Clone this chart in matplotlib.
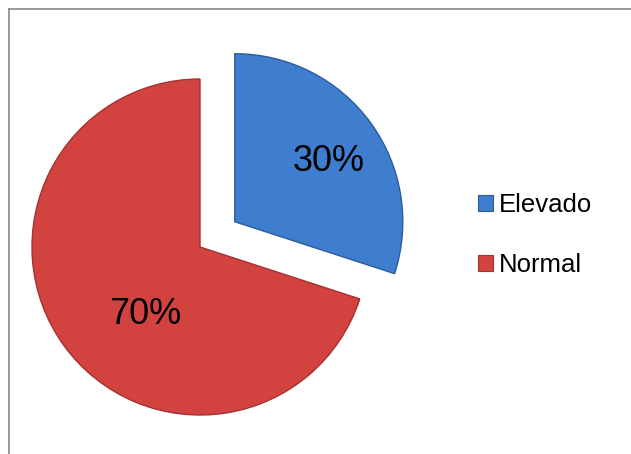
import matplotlib
matplotlib.use("Agg")
import matplotlib.pyplot as plt
from matplotlib.patches import Rectangle
from matplotlib.lines import Line2D
import numpy as np

labels = ["Elevado", "Normal"]
values = [30, 70]
colors = ["#3F7ECF", "#D2433F"]
edges = ["#2A5B9C", "#A33230"]

W, H = 631, 454
fig = plt.figure(figsize=(W / 100, H / 100), dpi=100)
ax = fig.add_axes([0, 0, 1, 1])

# pie laid out in pixel units, y pointing up (explode is in the same units)
cx, cy, r = 200, H - 247, 168
wedges, texts, autotexts = ax.pie(
    values, colors=colors, startangle=90, counterclock=False,
    explode=[43, 0], center=(cx, cy), radius=r,
    autopct="%1.0f%%",
    wedgeprops=dict(linewidth=1.0),
    textprops=dict(fontsize=26, family="Liberation Sans", color="black"),
)
for w, ec in zip(wedges, edges):
    w.set_edgecolor(ec)

# place the percentage labels inside each wedge
for t, w, ang, dist in zip(autotexts, wedges, [32.5, 231], [0.665, 0.52]):
    bx, by = w.center
    a = np.deg2rad(ang)
    t.set_position((bx + dist * r * np.cos(a), by + dist * r * np.sin(a)))

ax.set_xlim(0, W)
ax.set_ylim(0, H)
ax.set_aspect("equal")
ax.axis("off")

# legend
handles = [Rectangle((0, 0), 1, 1, facecolor=c, edgecolor=e, linewidth=0.8)
           for c, e in zip(colors, edges)]
leg = fig.legend(handles, labels, loc="center left", bbox_to_anchor=(465 / W, 1 - 235 / H),
                 frameon=False, prop=dict(family="Liberation Sans", size=18.5),
                 handlelength=0.6, handleheight=0.6, handletextpad=0.2,
                 labelspacing=1.38, borderpad=0)

# chart area border (open on right and bottom)
fig.add_artist(Line2D([8.5 / W, 8.5 / W], [0, 1 - 8.5 / H], transform=fig.transFigure,
                      color="#888888", linewidth=1.2))
fig.add_artist(Line2D([8.5 / W, 1], [1 - 8.5 / H, 1 - 8.5 / H], transform=fig.transFigure,
                      color="#888888", linewidth=1.2))

fig.savefig("out.png", dpi=100, facecolor="white")
